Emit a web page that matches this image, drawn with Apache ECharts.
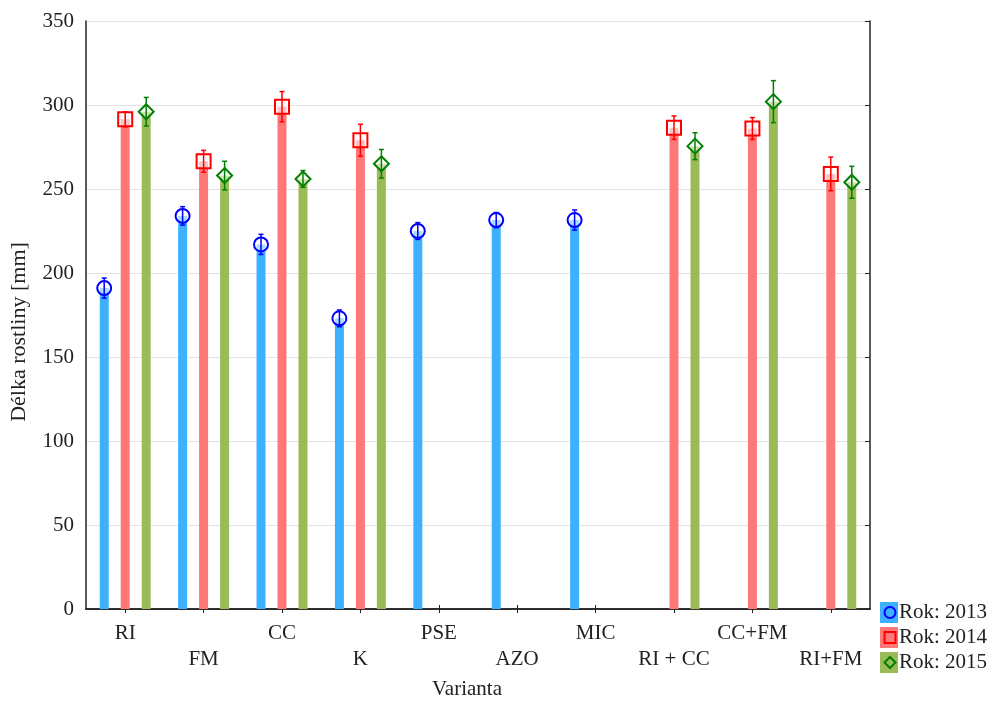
<!DOCTYPE html>
<html>
<head>
<meta charset="utf-8">
<style>
html,body{margin:0;padding:0;background:#fff;}
#chart{width:997px;height:704px;}
</style>
<script src="https://cdn.jsdelivr.net/npm/echarts@6/dist/echarts.min.js"></script>
</head>
<body>
<div id="chart"></div>
<script>
const categories = ['RI', 'FM', 'CC', 'K', 'PSE', 'AZO', 'MIC', 'RI + CC', 'CC+FM', 'RI+FM'];
const mean2013 = [191, 234, 217, 173, 225, 231.5, 231.5, null, null, null];
const err2013  = [6, 5.5, 6, 5, 5, 4.5, 6, null, null, null];
const mean2014 = [291.5, 266.5, 299, 279, null, null, null, 286.5, 286, 259];
const err2014  = [4.5, 6.5, 9, 9.5, null, null, null, 7, 6.5, 10];
const mean2015 = [296, 258, 256, 265, null, null, null, 275.5, 302, 254];
const err2015  = [8.5, 8.5, 5, 8.5, null, null, null, 8, 12.5, 9.5];
const seriesNames = ['Rok: 2013', 'Rok: 2014', 'Rok: 2015'];
const yMin = 0, yMax = 350, yStep = 50;

const FONT = '"Liberation Serif", "Times New Roman", serif';
const barColors = ['#3db1ff', '#ff7878', '#9bbb59'];
const markColors = ['#0000ff', '#ff0000', '#008000'];
const symbols = ['circle', 'rect', 'diamond'];
const offsets = [-21, 0, 21];
const means = [mean2013, mean2014, mean2015];
const errs = [err2013, err2014, err2015];

const chart = echarts.init(document.getElementById('chart'), null, {renderer: 'canvas'});

const series = [];
means.forEach((m, k) => {
  series.push({
    name: seriesNames[k], type: 'bar', data: m, barWidth: 9, barGap: '133%',
    itemStyle: {color: barColors[k]}, z: 2, silent: true
  });
});
means.forEach((m, k) => {
  series.push({
    name: 'm' + k, type: 'scatter', xAxisIndex: 0, yAxisIndex: 0,
    data: m.map((v, i) => v == null ? null : [i, v]).filter(d => d),
    symbol: symbols[k], symbolSize: k === 2 ? 15 : 14, symbolOffset: [offsets[k], 0],
    itemStyle: {color: 'rgba(255,255,255,0.55)', borderColor: markColors[k], borderWidth: 2, opacity: 1},
    z: 4, silent: true
  });
});
means.forEach((m, k) => {
  series.push({
    name: 'e' + k, type: 'custom', xAxisIndex: 0, yAxisIndex: 0,
    data: m.map((v, i) => v == null ? null : [i, v, errs[k][i]]).filter(d => d),
    renderItem: function (params, api) {
      const x = api.value(0), v = api.value(1), e = api.value(2);
      const t = api.coord([x, v + e]);
      const b = api.coord([x, v - e]);
      const cx = t[0] + offsets[k];
      const st = {stroke: markColors[k], lineWidth: 1.5};
      return {type: 'group', children: [
        {type: 'line', shape: {x1: cx, y1: t[1], x2: cx, y2: b[1]}, style: st},
        {type: 'line', shape: {x1: cx - 2.5, y1: t[1], x2: cx + 2.5, y2: t[1]}, style: st},
        {type: 'line', shape: {x1: cx - 2.5, y1: b[1], x2: cx + 2.5, y2: b[1]}, style: st}
      ]};
    },
    z: 5, silent: true
  });
});

const option = {
  animation: false,
  backgroundColor: '#fff',
  textStyle: {fontFamily: FONT},
  grid: {left: 86, right: 127, top: 21, bottom: 95, containLabel: false, outerBoundsMode: 'none'},
  legend: [{
    data: seriesNames.map(n => ({name: n, icon: 'rect'})), orient: 'vertical', left: 880, top: 602,
    itemWidth: 18, itemHeight: 21, itemGap: 4, padding: 0, selectedMode: false, z: 4,
    textStyle: {fontFamily: FONT, fontSize: 21, lineHeight: 21, color: '#222', padding: [0, 0, 0, -4]}
  }, {
    data: ['m0', 'm1', 'm2'].map(n => ({name: n, itemStyle: {color: 'rgba(0,0,0,0)', borderWidth: 2}})),
    orient: 'vertical', left: 883.5, top: 602, itemWidth: 11, itemHeight: 11,
    itemGap: 4, padding: 0, selectedMode: false, z: 6, formatter: () => ' ',
    textStyle: {fontFamily: FONT, fontSize: 21, lineHeight: 21, color: '#222'}
  }],
  xAxis: [{
    type: 'category', data: categories, position: 'bottom',
    name: 'Varianta', nameLocation: 'middle', nameGap: 70,
    nameTextStyle: {fontFamily: FONT, fontSize: 21, color: '#222', padding: [0, 22, 0, 0]},
    axisLine: {lineStyle: {color: '#222', width: 1.5}},
    axisTick: {show: true, inside: true, alignWithLabel: true, length: 4, lineStyle: {color: '#222'}},
    axisLabel: {interval: 0, margin: 11, fontFamily: FONT, fontSize: 21, color: '#222', lineHeight: 26,
      formatter: (v, i) => (i % 2 ? '\n' + v : v)},
    splitLine: {show: false}
  }, {
    type: 'category', data: categories, position: 'top',
    axisLine: {lineStyle: {color: '#222', width: 1.5}},
    axisTick: {show: true, inside: true, alignWithLabel: true, length: 4, lineStyle: {color: '#222'}},
    axisLabel: {show: false}, splitLine: {show: false}
  }],
  yAxis: [{
    type: 'value', min: yMin, max: yMax, interval: yStep, position: 'left',
    name: 'Délka rostliny [mm]', nameLocation: 'middle', nameGap: 56,
    nameTextStyle: {fontFamily: FONT, fontSize: 22, color: '#222', padding: [0, 34, 0, 0]},
    axisLine: {show: true, lineStyle: {color: '#222', width: 1.5}},
    axisTick: {show: false},
    axisLabel: {fontFamily: FONT, fontSize: 21, color: '#222', margin: 12},
    splitLine: {show: true, lineStyle: {color: '#e3e3e3', width: 1}}
  }, {
    type: 'value', min: yMin, max: yMax, interval: yStep, position: 'right',
    axisLine: {show: true, lineStyle: {color: '#222', width: 1.5}},
    axisTick: {show: true, inside: true, length: 5, lineStyle: {color: '#222'}},
    axisLabel: {show: false}, splitLine: {show: false}
  }],
  series: series
};
chart.setOption(option);
</script>
</body>
</html>
